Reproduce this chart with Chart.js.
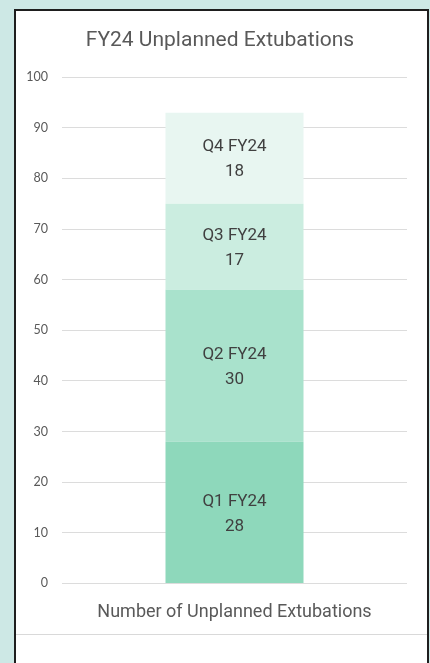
<!DOCTYPE html>
<html>
<head>
<meta charset="utf-8">
<script src="https://cdn.jsdelivr.net/npm/chart.js@4"></script>
<style>
    html, body { margin: 0; padding: 0; }
    body { width: 430px; height: 663px; background: #cde8e5; position: relative; overflow: hidden; }
    #panel {
        position: absolute; left: 14px; top: 9px; width: 411px; height: 700px;
        background: #fff; border: 2px solid #1e1e1e;
    }
    #rule { position: absolute; left: 16px; top: 634px; width: 411px; height: 1px; background: #d9d9d9; }
    #chart { position: absolute; left: 0; top: 0; }
</style>
</head>
<body>
<div id="panel"></div>
<div id="rule"></div>
<canvas id="chart" width="430" height="663"></canvas>
<script>
    const quarters = ['Q1 FY24', 'Q2 FY24', 'Q3 FY24', 'Q4 FY24'];
    const counts = [28, 30, 17, 18];
    const colors = ['#8ed8bb', '#a9e2cc', '#cbede0', '#e8f6f1'];
    const yMin = 0, yMax = 100, yStep = 10;
    const chartTitle = 'FY24 Unplanned Extubations';

    // Draw "Qx FY24" + value in the middle of each stacked segment
    const segmentLabels = {
        id: 'segmentLabels',
        afterDatasetsDraw(chart) {
            const ctx = chart.ctx;
            ctx.save();
            ctx.fillStyle = '#404040';
            ctx.font = '17px Roboto';
            ctx.textAlign = 'center';
            ctx.textBaseline = 'middle';
            chart.data.datasets.forEach((ds, i) => {
                const bar = chart.getDatasetMeta(i).data[0];
                const mid = (bar.y + bar.base) / 2;
                ctx.fillText(ds.label, bar.x, mid - 11);
                ctx.fillText(String(ds.data[0]), bar.x, mid + 14);
            });
            ctx.restore();
        }
    };

    // Title drawn a bit right of the chart-area centre, like the original
    const panelTitle = {
        id: 'panelTitle',
        afterDraw(chart) {
            const ctx = chart.ctx;
            ctx.save();
            ctx.fillStyle = '#595959';
            ctx.font = '21px Roboto';
            ctx.textAlign = 'center';
            ctx.textBaseline = 'middle';
            ctx.fillText(chartTitle, 220, 41);
            ctx.restore();
        }
    };

    new Chart(document.getElementById('chart'), {
        type: 'bar',
        data: {
            labels: [''],
            datasets: quarters.map((q, i) => ({
                label: q,
                data: [counts[i]],
                backgroundColor: colors[i],
                borderWidth: 0,
                categoryPercentage: 1,
                barPercentage: 0.4
            }))
        },
        options: {
            responsive: false,
            animation: false,
            devicePixelRatio: 1,
            layout: { padding: { left: 20, right: 23, top: 0, bottom: 40 } },
            scales: {
                x: {
                    stacked: true,
                    grid: { display: false },
                    border: { display: false },
                    ticks: { display: false },
                    title: {
                        display: true,
                        text: 'Number of Unplanned Extubations',
                        color: '#595959',
                        font: { family: 'Roboto', size: 18 },
                        padding: { top: 10, bottom: 0 }
                    }
                },
                y: {
                    stacked: true,
                    min: yMin,
                    max: yMax,
                    border: { display: false },
                    grid: { color: '#dcdcdc', drawTicks: false },
                    ticks: {
                        stepSize: yStep,
                        padding: 14,
                        color: '#595959',
                        font: { family: 'Lato', size: 12.5 }
                    },
                    afterFit(scale) { scale.width = 42; }
                }
            },
            plugins: {
                legend: { display: false },
                tooltip: { enabled: false },
                // keeps the space for the title; text itself is painted by panelTitle
                title: {
                    display: true,
                    text: chartTitle,
                    color: 'rgba(0,0,0,0)',
                    font: { family: 'Roboto', size: 21, weight: 'normal' },
                    padding: { top: 29, bottom: 23 }
                }
            }
        },
        plugins: [segmentLabels, panelTitle]
    });
</script>
</body>
</html>
